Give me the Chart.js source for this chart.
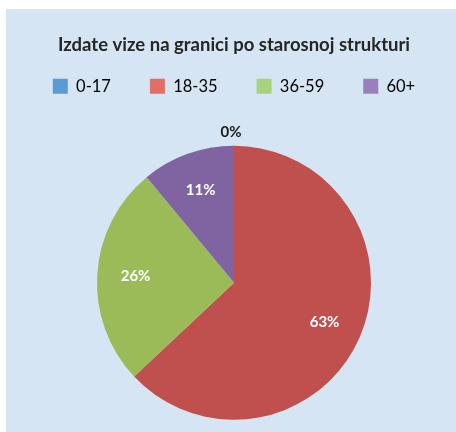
<!DOCTYPE html>
<html>
<head>
<meta charset="utf-8">
<script src="https://cdn.jsdelivr.net/npm/chart.js@4"></script>
<style>
  html, body { margin: 0; padding: 0; background: #ffffff; }
  #panel { position: absolute; left: 6px; top: 9px; width: 450px; height: 423px; background: #d5e5f4; }
</style>
</head>
<body>
<div id="panel"><canvas id="pieChart" width="450" height="423"></canvas></div>
<script>
// age groups and their share of issued visas (percent)
const ageGroups = ['0-17', '18-35', '36-59', '60+'];
const shares = [0, 63, 26, 11];
const sliceColors = ['#4f81bd', '#c0504d', '#9bbb59', '#8064a2'];
const legendColors = ['#5a9bd3', '#e26f66', '#a9d27c', '#9a80bb'];

// extra room under the legend
const legendGap = {
    id: 'legendGap',
    beforeInit(chart) {
        const fit = chart.legend.fit;
        chart.legend.fit = function () {
            fit.call(this);
            this.height += 30;
        };
    }
};

// percent labels on the slices, 0% goes outside above the pie
const sliceLabels = {
    id: 'sliceLabels',
    afterDatasetsDraw(chart) {
        const ctx = chart.ctx;
        const meta = chart.getDatasetMeta(0);
        ctx.save();
        ctx.textAlign = 'center';
        ctx.textBaseline = 'middle';
        meta.data.forEach((arc, i) => {
            const p = arc.getProps(['x', 'y', 'startAngle', 'endAngle', 'outerRadius']);
            const mid = (p.startAngle + p.endAngle) / 2;
            const value = shares[i];
            let r, color;
            if (value < 1) {
                r = p.outerRadius + 14;
                color = '#1a1a1a';
            } else {
                r = p.outerRadius * 0.72;
                color = '#ffffff';
            }
            ctx.fillStyle = color;
            ctx.font = 'bold 15px Lato';
            ctx.fillText(value + '%', p.x + Math.cos(mid) * r - (value < 1 ? 3 : 0), p.y + Math.sin(mid) * r);
        });
        ctx.restore();
    }
};

new Chart(document.getElementById('pieChart').getContext('2d'), {
    type: 'pie',
    data: {
        labels: ageGroups,
        datasets: [{
            data: shares,
            backgroundColor: sliceColors,
            borderWidth: 0
        }]
    },
    options: {
        responsive: false,
        animation: false,
        radius: 137,
        layout: { padding: { left: 6, bottom: 1 } },
        plugins: {
            title: {
                display: true,
                text: 'Izdate vize na granici po starosnoj strukturi',
                color: '#262626',
                font: { family: 'Lato', size: 18.5, weight: 'bold' },
                padding: { top: 24.9, bottom: -17.1 }
            },
            legend: {
                position: 'top',
                labels: {
                    color: '#262626',
                    font: { family: 'Lato', size: 16.5 },
                    boxWidth: 15,
                    boxHeight: 15,
                    padding: 39,
                    generateLabels(chart) {
                        return ageGroups.map((g, i) => ({
                            text: g,
                            fillStyle: legendColors[i],
                            strokeStyle: legendColors[i],
                            lineWidth: 0,
                            hidden: false,
                            index: i
                        }));
                    }
                }
            },
            tooltip: { enabled: false }
        }
    },
    plugins: [legendGap, sliceLabels]
});
</script>
</body>
</html>
